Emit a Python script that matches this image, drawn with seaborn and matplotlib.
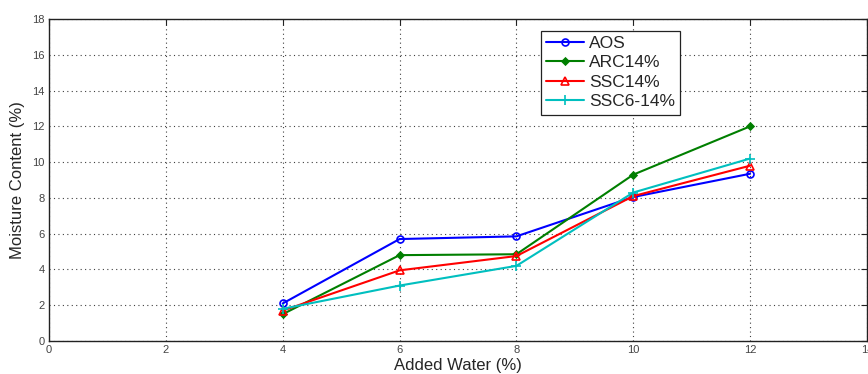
import matplotlib
matplotlib.use("Agg")
import matplotlib.pyplot as plt
import seaborn as sns
import pandas as pd

added_water = [4, 6, 8, 10, 12]
aos = [2.1, 5.7, 5.85, 8.05, 9.35]
arc14 = [1.5, 4.8, 4.85, 9.3, 12.0]
ssc14 = [1.7, 3.95, 4.75, 8.1, 9.8]
ssc6_14 = [1.8, 3.1, 4.2, 8.3, 10.2]

series_names = ["AOS", "ARC14%", "SSC14%", "SSC6-14%"]
series_values = [aos, arc14, ssc14, ssc6_14]

xticks = [0, 2, 4, 6, 8, 10, 12, 14]
yticks = [0, 2, 4, 6, 8, 10, 12, 14, 16, 18]

sns.set_theme(style="white")
plt.rcParams['font.family'] = ['Liberation Sans', 'DejaVu Sans']

fig = plt.figure(figsize=(8.68, 3.74), dpi=100)
ax = fig.add_axes([0.0565, 0.0882, 0.9423, 0.8610])

colors = ["#0000ff", "#007f00", "#ff0000", "#00bfbf"]
markers = ["o", "D", "^", "+"]
msizes = [5, 3.5, 6, 7]
fills = ["none", None, "none", None]

for name, vals, c, m, ms, f in zip(series_names, series_values, colors, markers, msizes, fills):
    df = pd.DataFrame({"x": added_water, "y": vals})
    kw = dict(marker=m, markersize=ms, markeredgecolor=c, markeredgewidth=1.2)
    if f == "none":
        kw["markerfacecolor"] = "none"
    else:
        kw["markerfacecolor"] = c
    sns.lineplot(data=df, x="x", y="y", ax=ax, color=c, linewidth=1.5, label=name, **kw)

ax.set_xlim(0, 14)
ax.set_ylim(0, 18)
ax.set_xticks(xticks)
ax.set_yticks(yticks)
ax.set_xticklabels([str(t) for t in xticks])
ax.set_yticklabels([str(t) for t in yticks])
ax.grid(True, linestyle=(0, (1, 3)), color="#404040", linewidth=0.8)
ax.tick_params(axis="both", direction="in", length=4, width=0.8, colors="#222222",
               labelcolor="#444444", labelsize=8, top=True, right=True, pad=3)
for s in ax.spines.values():
    s.set_color("#222222")
    s.set_linewidth(1.0)
    s.set_visible(True)

ax.set_xlabel("Added Water (%)", fontsize=12, labelpad=2)
ax.set_ylabel("Moisture Content (%)", fontsize=12, labelpad=5)

leg = ax.legend(loc="upper left", bbox_to_anchor=(0.601, 0.964), borderaxespad=0,
                fontsize=12.5, frameon=True, fancybox=False, framealpha=1,
                edgecolor="#222222", handlelength=2.2, handletextpad=0.3,
                labelspacing=0.25, borderpad=0.3)
leg.get_frame().set_linewidth(0.9)

fig.savefig("out.png", dpi=100)
